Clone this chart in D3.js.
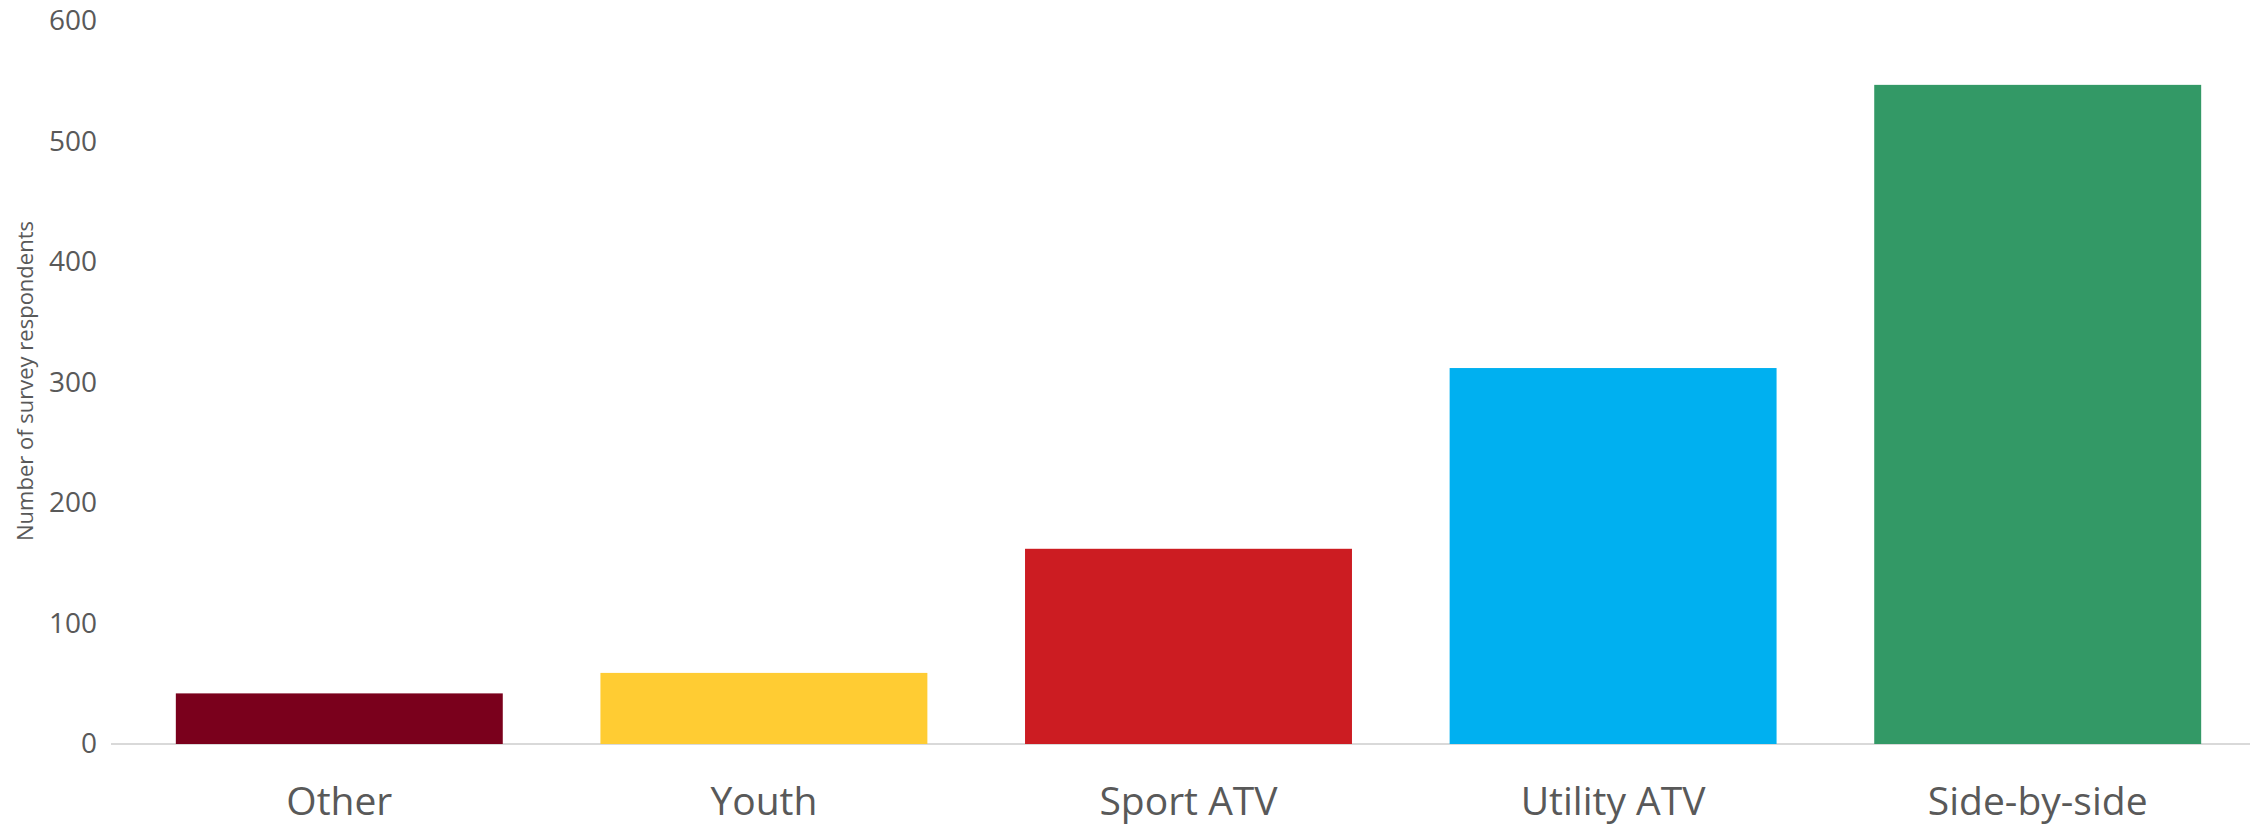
<!DOCTYPE html>
<html>
<head>
<meta charset="utf-8">
<script src="https://cdn.jsdelivr.net/npm/d3@7"></script>
<style>
  body { margin: 0; background: #fff; }
  text { font-family: "Open Sans", sans-serif; fill: #595959; }
</style>
</head>
<body>
<div class="chart"></div>
<script>
const categories = ["Other", "Youth", "Sport ATV", "Utility ATV", "Side-by-side"]
const respondents = [42, 59, 162, 312, 547]
const barColors = ["#7a001c", "#ffcc33", "#cc1c22", "#00b0f0", "#339966"]
const yTicks = [0, 100, 200, 300, 400, 500, 600]

function drawChart() {

    let dimensions = {
        width: 2254,
        height: 830,
        margin: { top: 21, right: 4, bottom: 86, left: 127 },
    }

    const wrapper = d3.select(".chart")
        .append("svg")
        .attr("width", dimensions.width)
        .attr("height", dimensions.height)

    const yScale = d3.scaleLinear()
        .domain([0, 600])
        .range([dimensions.height - dimensions.margin.bottom, dimensions.margin.top])

    const xScale = d3.scaleBand()
        .domain(categories)
        .range([dimensions.margin.left, dimensions.width - dimensions.margin.right])
        .paddingInner(0.23)
        .paddingOuter(0.115)

    // baseline
    wrapper.append("line")
        .attr("x1", 111)
        .attr("x2", dimensions.width - dimensions.margin.right)
        .attr("y1", yScale(0))
        .attr("y2", yScale(0))
        .attr("stroke", "#d9d9d9")
        .attr("stroke-width", 2)

    wrapper.selectAll(".bar")
        .data(categories)
        .join("rect")
        .attr("class", "bar")
        .attr("x", d => xScale(d))
        .attr("width", xScale.bandwidth())
        .attr("y", (d, i) => yScale(respondents[i]))
        .attr("height", (d, i) => yScale(0) - yScale(respondents[i]))
        .attr("fill", (d, i) => barColors[i])

    // y tick labels
    const yAxis = d3.axisLeft(yScale).tickValues(yTicks).tickSize(0).tickPadding(0)
    const yG = wrapper.append("g")
        .attr("transform", "translate(97,0)")
        .call(yAxis)
    yG.select(".domain").remove()
    yG.selectAll("text")
        .style("font-size", "28px")
        .attr("fill", "#595959")
        .attr("font-family", null)

    // x labels
    const xAxis = d3.axisBottom(xScale).tickSize(0).tickPadding(0)
    const xG = wrapper.append("g")
        .attr("transform", `translate(0,${yScale(0) + 43})`)
        .call(xAxis)
    xG.select(".domain").remove()
    xG.selectAll("text")
        .style("font-size", "39px")
        .attr("fill", "#595959")
        .attr("font-family", null)

    wrapper.append("text")
        .attr("transform", "translate(33,381) rotate(-90)")
        .attr("text-anchor", "middle")
        .style("font-size", "22px")
        .text("Number of survey respondents")
}

drawChart()
</script>
</body>
</html>
